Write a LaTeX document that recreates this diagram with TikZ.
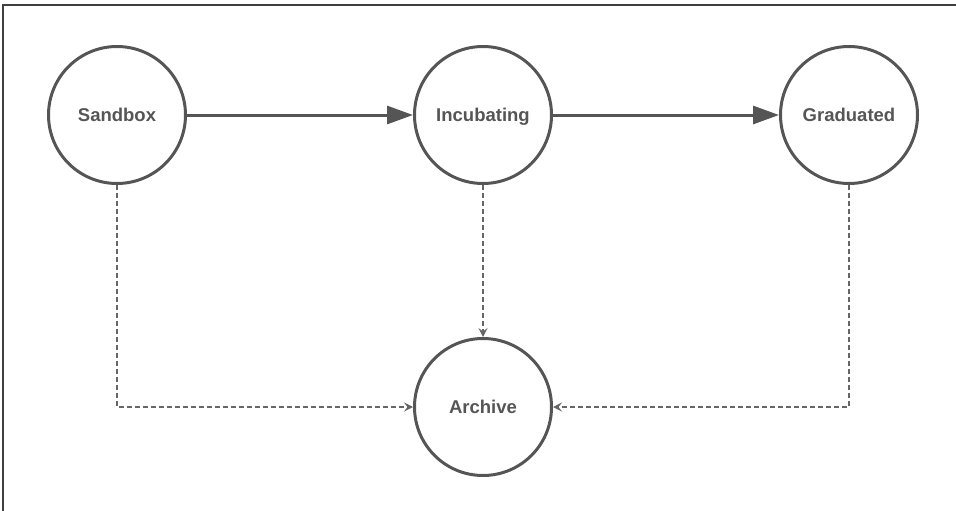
\documentclass[tikz,border=0pt]{standalone}
\usepackage{fontspec}
\setmainfont{Liberation Sans}
\usetikzlibrary{arrows.meta}
\definecolor{stroke}{HTML}{555555}
\definecolor{dash}{HTML}{666666}
\begin{document}
\begin{tikzpicture}[x=1pt,y=-1pt,
  stage/.style={circle, draw=stroke, line width=3pt, minimum size=137pt, inner sep=0pt,
    text=stroke, text height=13pt, text depth=0pt,
    font=\bfseries\fontsize{18.5}{22}\selectfont},
  flow/.style={draw=stroke, line width=3pt, -{Triangle[length=26pt,width=18pt]}},
  retire/.style={draw=dash, line width=1.2pt, dash pattern=on 5pt off 3pt,
    -{Stealth[length=9pt,width=9pt,inset=3.5pt]}}]
  \useasboundingbox (0,0) rectangle (956,511);
  % frame
  \draw[line width=1.6pt, draw=black!75] (3,511) -- (3,5) -- (956,5);
  % stages
  \node[stage] (sandbox) at (117,115) {Sandbox};
  \node[stage] (incubating) at (483,115) {Incubating};
  \node[stage] (graduated) at (849,115) {Graduated};
  \node[stage] (archive) at (483,407) {Archive};
  % promotion path
  \draw[flow] (sandbox) -- (incubating);
  \draw[flow] (incubating) -- (graduated);
  % archival paths
  \draw[retire] (sandbox.south) |- (archive.west);
  \draw[retire] (incubating.south) -- (archive.north);
  \draw[retire] (graduated.south) |- (archive.east);
\end{tikzpicture}
\end{document}
